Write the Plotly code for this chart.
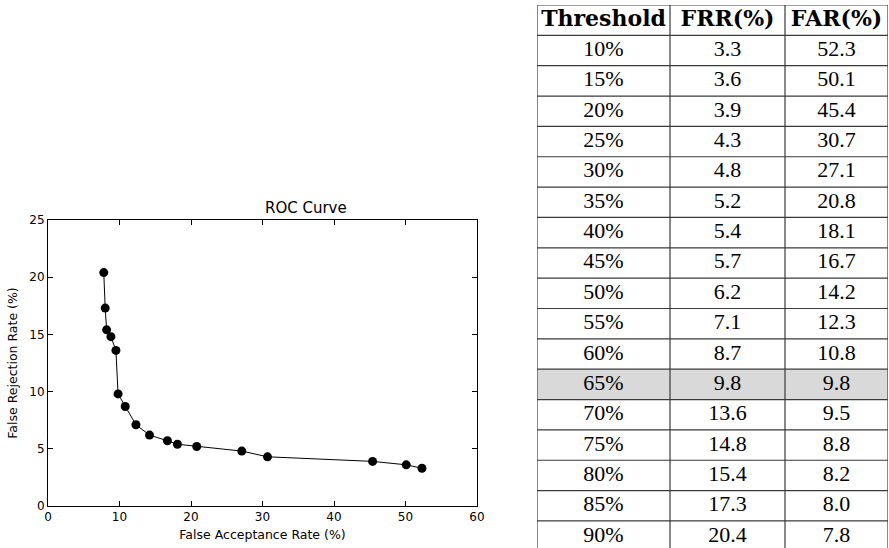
import plotly.graph_objects as go

thresholds = ["10%", "15%", "20%", "25%", "30%", "35%", "40%", "45%", "50%",
              "55%", "60%", "65%", "70%", "75%", "80%", "85%", "90%"]
frr = [3.3, 3.6, 3.9, 4.3, 4.8, 5.2, 5.4, 5.7, 6.2, 7.1, 8.7, 9.8, 13.6, 14.8, 15.4, 17.3, 20.4]
far = [52.3, 50.1, 45.4, 30.7, 27.1, 20.8, 18.1, 16.7, 14.2, 12.3, 10.8, 9.8, 9.5, 8.8, 8.2, 8.0, 7.8]
headers = ["Threshold", "FRR(%)", "FAR(%)"]
highlight = "65%"

W, H = 889, 548

# table layout (style)
col_widths = [133, 115, 103]
row_h = 30.35
tbl_left, tbl_right, tbl_top = 537, 888, 5
line_col = "#3a3a3a"

fig = go.Figure()

# ROC curve
fig.add_trace(go.Scatter(
    x=far, y=frr, mode="lines+markers",
    line=dict(color="black", width=1),
    marker=dict(color="black", size=9),
    showlegend=False, cliponaxis=False,
))

# Table drawn on its own hidden axes: x in column-width units, y in row units (0 = top)
edges = [0]
for w in col_widths:
    edges.append(edges[-1] + w)
centers = [(edges[i] + edges[i + 1]) / 2 for i in range(len(col_widths))]
n_rows = len(thresholds) + 1
columns = [thresholds, [f"{v:.1f}" for v in frr], [f"{v:.1f}" for v in far]]

for ci, col in enumerate(columns):
    fig.add_trace(go.Scatter(
        x=[centers[ci]], y=[0.5], mode="text", text=[f"<b>{headers[ci]}</b>"],
        textfont=dict(family="DejaVu Serif", size=22, color="black"),
        xaxis="x2", yaxis="y2", showlegend=False, hoverinfo="skip", cliponaxis=False,
    ))
    fig.add_trace(go.Scatter(
        x=[centers[ci]] * len(col), y=[i + 1.5 for i in range(len(col))],
        mode="text", text=col,
        textfont=dict(family="Liberation Serif", size=22, color="black"),
        xaxis="x2", yaxis="y2", showlegend=False, hoverinfo="skip", cliponaxis=False,
    ))

shapes = []
hi = thresholds.index(highlight) + 1
shapes.append(dict(type="rect", xref="x2", yref="y2", x0=edges[0], x1=edges[-1],
                   y0=hi, y1=hi + 1, fillcolor="#d9d9d9", line=dict(width=0), layer="below"))
for r in range(n_rows + 1):
    shapes.append(dict(type="line", xref="x2", yref="y2", x0=edges[0], x1=edges[-1],
                       y0=r, y1=r, line=dict(color=line_col, width=1.2)))
for e in edges:
    shapes.append(dict(type="line", xref="x2", yref="y2", x0=e, x1=e,
                       y0=0, y1=n_rows, line=dict(color=line_col, width=1.2)))

axis_common = dict(showline=True, linecolor="black", linewidth=1, mirror="allticks",
                   ticks="inside", ticklen=5, tickcolor="black", showgrid=False,
                   zeroline=False, automargin=False,
                   tickfont=dict(family="DejaVu Sans", size=12, color="black"))

avail_h = H - tbl_top
fig.update_layout(
    width=W, height=H,
    margin=dict(l=0, r=0, t=0, b=0),
    paper_bgcolor="white", plot_bgcolor="white",
    xaxis=dict(domain=[48 / W, 477 / W], range=[0, 60], dtick=10,
               title=dict(text="False Acceptance Rate (%)", standoff=6,
                          font=dict(family="DejaVu Sans", size=12.5, color="black")),
               **axis_common),
    yaxis=dict(domain=[1 - 506 / H, 1 - 220 / H], range=[0, 25], dtick=5,
               title=dict(text="False Rejection Rate (%)", standoff=8,
                          font=dict(family="DejaVu Sans", size=12.5, color="black")),
               **axis_common),
    xaxis2=dict(domain=[tbl_left / W, tbl_right / W], range=[0, edges[-1]],
                visible=False, anchor="y2", fixedrange=True),
    yaxis2=dict(domain=[0, 1 - tbl_top / H], range=[avail_h / row_h, 0],
                visible=False, anchor="x2", fixedrange=True),
    shapes=shapes,
    annotations=[dict(text="ROC Curve", x=(48 + 477) / 2 / W, y=1 - 208 / H,
                      xref="paper", yref="paper", showarrow=False,
                      font=dict(family="DejaVu Sans", size=15, color="black"))],
)

fig.write_html("out.html", config={"displayModeBar": False},
               post_script="document.body.style.margin='0';document.body.style.overflow='hidden';")
